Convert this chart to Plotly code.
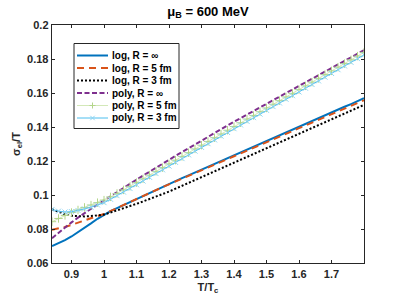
import plotly.graph_objects as go

# Temperature grid T/Tc
T = [0.84, 0.86, 0.88, 0.90, 0.92, 0.94, 0.96, 0.98, 1.00, 1.02, 1.04, 1.06, 1.08, 1.10,
     1.12, 1.14, 1.16, 1.18, 1.20, 1.22, 1.24, 1.26, 1.28, 1.30, 1.32, 1.34, 1.36, 1.38,
     1.40, 1.42, 1.44, 1.46, 1.48, 1.50, 1.52, 1.54, 1.56, 1.58, 1.60, 1.62, 1.64, 1.66,
     1.68, 1.70, 1.72, 1.74, 1.76, 1.78, 1.80]

log_inf = [0.0700, 0.0716, 0.0735, 0.0756, 0.0780, 0.0806, 0.0833, 0.0860, 0.0884, 0.0905,
           0.0923, 0.0941, 0.0959, 0.0977, 0.0995, 0.1012, 0.1030, 0.1047, 0.1065, 0.1082,
           0.1099, 0.1115, 0.1132, 0.1149, 0.1166, 0.1183, 0.1199, 0.1216, 0.1233, 0.1250,
           0.1267, 0.1283, 0.1300, 0.1317, 0.1334, 0.1351, 0.1367, 0.1384, 0.1401, 0.1418,
           0.1435, 0.1451, 0.1468, 0.1485, 0.1502, 0.1519, 0.1535, 0.1552, 0.1569]

log_5fm = [0.0795, 0.0802, 0.0812, 0.0824, 0.0838, 0.0852, 0.0864, 0.0876, 0.0888, 0.0906,
           0.0924, 0.0942, 0.0960, 0.0978, 0.0995, 0.1012, 0.1029, 0.1046, 0.1063, 0.1079,
           0.1096, 0.1112, 0.1129, 0.1145, 0.1162, 0.1178, 0.1195, 0.1211, 0.1228, 0.1244,
           0.1261, 0.1277, 0.1294, 0.1310, 0.1327, 0.1343, 0.1360, 0.1376, 0.1393, 0.1409,
           0.1426, 0.1442, 0.1459, 0.1475, 0.1492, 0.1508, 0.1525, 0.1541, 0.1558]

log_3fm = [0.0916, 0.0900, 0.0887, 0.0878, 0.0874, 0.0874, 0.0876, 0.0880, 0.0885, 0.0897,
           0.0909, 0.0922, 0.0935, 0.0948, 0.0962, 0.0976, 0.0990, 0.1005, 0.1020, 0.1037,
           0.1054, 0.1071, 0.1088, 0.1105, 0.1122, 0.1139, 0.1156, 0.1173, 0.1190, 0.1207,
           0.1224, 0.1241, 0.1258, 0.1275, 0.1292, 0.1309, 0.1326, 0.1343, 0.1360, 0.1377,
           0.1394, 0.1411, 0.1428, 0.1445, 0.1462, 0.1479, 0.1496, 0.1513, 0.1530]

poly_inf = [0.0746, 0.0778, 0.0809, 0.0839, 0.0867, 0.0894, 0.0919, 0.0944, 0.0968, 0.0993,
            0.1018, 0.1042, 0.1066, 0.1090, 0.1114, 0.1137, 0.1161, 0.1184, 0.1207, 0.1230,
            0.1253, 0.1275, 0.1298, 0.1320, 0.1342, 0.1365, 0.1387, 0.1409, 0.1431, 0.1452,
            0.1473, 0.1494, 0.1516, 0.1537, 0.1558, 0.1579, 0.1600, 0.1621, 0.1642, 0.1663,
            0.1684, 0.1705, 0.1726, 0.1747, 0.1768, 0.1789, 0.1810, 0.1831, 0.1852]

poly_5fm = [0.0843, 0.0862, 0.0880, 0.0897, 0.0912, 0.0927, 0.0941, 0.0955, 0.0970, 0.0989,
            0.1009, 0.1030, 0.1051, 0.1073, 0.1095, 0.1117, 0.1139, 0.1161, 0.1183, 0.1205,
            0.1227, 0.1249, 0.1271, 0.1293, 0.1315, 0.1337, 0.1359, 0.1381, 0.1403, 0.1425,
            0.1447, 0.1468, 0.1490, 0.1512, 0.1534, 0.1555, 0.1577, 0.1598, 0.1620, 0.1642,
            0.1664, 0.1686, 0.1708, 0.1730, 0.1752, 0.1773, 0.1795, 0.1817, 0.1839]

poly_3fm = [0.0915, 0.0905, 0.0900, 0.0902, 0.0909, 0.0918, 0.0928, 0.0941, 0.0955, 0.0975,
            0.0996, 0.1017, 0.1038, 0.1060, 0.1082, 0.1104, 0.1126, 0.1148, 0.1170, 0.1192,
            0.1214, 0.1236, 0.1258, 0.1280, 0.1302, 0.1324, 0.1346, 0.1368, 0.1390, 0.1412,
            0.1433, 0.1455, 0.1476, 0.1498, 0.1520, 0.1541, 0.1563, 0.1584, 0.1606, 0.1628,
            0.1650, 0.1671, 0.1693, 0.1715, 0.1737, 0.1759, 0.1780, 0.1802, 0.1824]

series_names = ["log, R = ∞", "log, R = 5 fm", "log, R = 3 fm",
                "poly, R = ∞", "poly, R = 5 fm", "poly, R = 3 fm"]

x_ticks = [0.9, 1.0, 1.1, 1.2, 1.3, 1.4, 1.5, 1.6, 1.7]
x_ticktext = ["0.9", "1", "1.1", "1.2", "1.3", "1.4", "1.5", "1.6", "1.7"]
y_ticks = [0.06, 0.08, 0.10, 0.12, 0.14, 0.16, 0.18, 0.20]
y_ticktext = ["0.06", "0.08", "0.1", "0.12", "0.14", "0.16", "0.18", "0.2"]

FONT = "Liberation Sans, Arial, Helvetica, sans-serif"
AX = "#262626"
GREEN_LINE = "#D3E8B8"
GREEN_MARK = "#B3D58A"
CYAN_LINE = "#4DBEEE"
CYAN_MARK = "#8FD5F3"

styles = [
    dict(mode="lines", line=dict(color="#0072BD", width=2)),
    dict(mode="lines", line=dict(color="#D95319", width=2, dash="7px,5px")),
    dict(mode="lines", line=dict(color="#000000", width=2, dash="2px,2px")),
    dict(mode="lines", line=dict(color="#7E2F8E", width=2, dash="5px,2.5px")),
    dict(mode="lines+markers", line=dict(color=GREEN_LINE, width=1),
         marker=dict(symbol="cross-thin", size=6, line=dict(color=GREEN_MARK, width=1))),
    dict(mode="lines+markers", line=dict(color=CYAN_LINE, width=1),
         marker=dict(symbol="x-thin", size=5, line=dict(color=CYAN_MARK, width=1))),
]
series = [log_inf, log_5fm, log_3fm, poly_inf, poly_5fm, poly_3fm]

fig = go.Figure()
for name, ys, st in zip(series_names, series, styles):
    fig.add_trace(go.Scatter(x=T, y=ys, name=name, showlegend=False, hoverinfo="skip", **st))

# ---- compact MATLAB-style legend box (paper coordinates) ----
W, H = 403, 303
ML, MR, MT, MB = 52, 39, 25, 40
PW, PH = W - ML - MR, H - MT - MB


def px(xp):
    return (xp - ML) / PW


def py(yp):
    return 1 - (yp - MT) / PH


shapes = [dict(type="rect", xref="paper", yref="paper",
               x0=px(74), x1=px(179), y0=py(128.5), y1=py(43.5),
               line=dict(color=AX, width=1), fillcolor="white", layer="above")]
annotations = []
row_y = [55.5, 68, 80.5, 93, 105.5, 118]
leg_lines = [
    dict(color="#0072BD", width=2, dash="solid"),
    dict(color="#D95319", width=2, dash="7px,5px"),
    dict(color="#000000", width=2, dash="2px,2px"),
    dict(color="#7E2F8E", width=2, dash="5px,2.5px"),
    dict(color=GREEN_LINE, width=1, dash="solid"),
    dict(color=CYAN_LINE, width=1, dash="solid"),
]
for i, (name, ly) in enumerate(zip(series_names, row_y)):
    shapes.append(dict(type="line", xref="paper", yref="paper",
                       x0=px(77), x1=px(108), y0=py(ly), y1=py(ly),
                       line=leg_lines[i], layer="above"))
    annotations.append(dict(text="<b>%s</b>" % name, xref="paper", yref="paper",
                            x=px(109.5), y=py(ly), xanchor="left", yanchor="middle",
                            showarrow=False, font=dict(size=10, color="#000000")))
# centre markers for the poly 5 fm (+) and poly 3 fm (x) entries
cx = 92.5
for (dx0, dy0, dx1, dy1) in [(-3, 0, 3, 0), (0, -3, 0, 3)]:
    shapes.append(dict(type="line", xref="paper", yref="paper",
                       x0=px(cx + dx0), x1=px(cx + dx1),
                       y0=py(row_y[4] + dy0), y1=py(row_y[4] + dy1),
                       line=dict(color=GREEN_MARK, width=1), layer="above"))
for (dx0, dy0, dx1, dy1) in [(-2.2, -2.2, 2.2, 2.2), (-2.2, 2.2, 2.2, -2.2)]:
    shapes.append(dict(type="line", xref="paper", yref="paper",
                       x0=px(cx + dx0), x1=px(cx + dx1),
                       y0=py(row_y[5] + dy0), y1=py(row_y[5] + dy1),
                       line=dict(color=CYAN_MARK, width=1), layer="above"))

fig.update_layout(
    width=W, height=H,
    margin=dict(l=ML, r=MR, t=MT, b=MB, autoexpand=False),
    paper_bgcolor="white", plot_bgcolor="white",
    font=dict(family=FONT, size=10, color=AX),
    title=dict(text="<b>μ<sub>B</sub> = 600 MeV</b>", x=(ML + PW / 2) / W, xanchor="center",
               y=1 - 11 / H, yanchor="middle", font=dict(size=13, color="#000000")),
    showlegend=False,
    hovermode=False,
    shapes=shapes,
    annotations=annotations,
)
fig.update_xaxes(range=[0.84, 1.8], tickvals=x_ticks, ticktext=x_ticktext,
                 ticks="inside", ticklen=3, tickwidth=1, tickcolor=AX,
                 showline=True, linecolor=AX, linewidth=1.3, mirror="ticks",
                 showgrid=False, zeroline=False, automargin=False,
                 tickfont=dict(size=11, weight="bold"),
                 title=dict(text="<b>T/T<sub>c</sub></b>", font=dict(size=11), standoff=4))
fig.update_yaxes(range=[0.06, 0.2], tickvals=y_ticks, ticktext=y_ticktext,
                 ticks="inside", ticklen=3, tickwidth=1, tickcolor=AX,
                 showline=True, linecolor=AX, linewidth=1.3, mirror="ticks",
                 showgrid=False, zeroline=False, automargin=False,
                 tickfont=dict(size=11, weight="bold"),
                 title=dict(text="<b>σ<sub>el</sub>/T</b>", font=dict(size=11), standoff=4))

fig.write_html("out.html", config={"displayModeBar": False, "staticPlot": True},
               post_script="document.body.style.margin='0';document.body.style.padding='0';")
